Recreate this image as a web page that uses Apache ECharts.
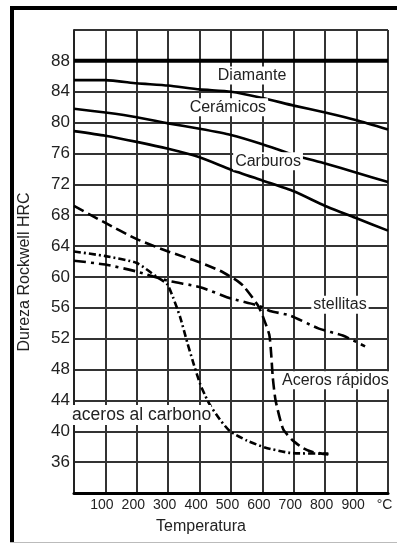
<!DOCTYPE html>
<html><head><meta charset="utf-8">
<script src="https://cdn.jsdelivr.net/npm/echarts@6/dist/echarts.min.js"></script>
<style>html,body{margin:0;padding:0;background:#fff}#c{width:397px;height:544px}</style>
</head><body><div id="c"></div>
<script>
// ---- tick labels ----
const xTickValues = [0, 100, 200, 300, 400, 500, 600, 700, 800, 900, 1000];
const xTickLabels = ['', '100', '200', '300', '400', '500', '600', '700', '800', '900', '°C'];
const yTickLabels = ['36', '40', '44', '48', '52', '56', '60', '64', '68', '72', '76', '80', '84', '88'];

// ---- series (temperature °C, Rockwell HRC) ----
const gridTemps = [0, 100, 200, 300, 400, 500, 600, 700, 800, 900, 1000];
const diamanteTemps = [0, 1000];
const diamanteHRC = [88, 88];
const ceramicosHRC = [85.5, 85.5, 85.1, 84.8, 84.3, 84.0, 83.2, 82.2, 81.3, 80.3, 79.1];
const carburosHRC = [81.8, 81.3, 80.7, 79.9, 79.2, 78.4, 77.2, 75.8, 74.7, 73.5, 72.3];
const carburos2HRC = [78.9, 78.3, 77.5, 76.6, 75.5, 73.9, 72.5, 71.1, 69.2, 67.6, 66.0];

const rapidosTemps = [0, 100, 200, 300, 400, 465, 520, 540, 586, 605, 622, 628, 633, 642, 666, 697, 730, 760, 810];
const rapidosHRC   = [69.2, 67.0, 64.9, 63.3, 61.9, 60.8, 59.5, 58.8, 56.3, 54.5, 52.5, 50.0, 47.0, 44.0, 40.3, 38.8, 37.8, 37.3, 37.0];

const carbonoTemps = [0, 100, 200, 264, 296, 315, 338, 360, 379, 401, 417, 433, 465, 497, 551, 608, 688, 810];
const carbonoHRC   = [63.3, 62.7, 61.8, 60.0, 59.1, 57.4, 54.8, 51.6, 49.0, 46.2, 44.7, 43.4, 41.5, 40.0, 38.8, 37.9, 37.2, 37.1];

const stellitasTemps = [0, 100, 200, 300, 400, 500, 586, 624, 688, 780, 856, 927];
const stellitasHRC   = [62.1, 61.6, 60.7, 59.5, 58.7, 57.2, 56.3, 55.6, 55.0, 53.3, 52.4, 51.0];

// ---- curve labels (text, anchor in data space) ----
const labelTexts = ['Diamante', 'Cerámicos', 'Carburos', 'stellitas', 'Aceros rápidos', 'aceros al carbono'];
const labelTemps = [567, 490, 618, 847, 656, -6];
const labelHRC   = [86.1, 82.0, 75.0, 56.4, 46.6, 42.1];
const labelAlign = ['center', 'center', 'center', 'center', 'left', 'left'];

const zip = (xs, ys) => xs.map((x, i) => [x, ys[i]]);
const FONT = 'Arial, "Liberation Sans", sans-serif';

const chart = echarts.init(document.getElementById('c'), null, {renderer: 'canvas'});

function lineSeries(name, data, width, dash) {
  return {
    name, type: 'line', data, showSymbol: false, symbol: 'none',
    smooth: 0.2, z: 3,
    lineStyle: {color: '#000', width: width, type: dash || 'solid'},
    emphasis: {disabled: true}, animation: false
  };
}

chart.setOption({
  animation: false,
  backgroundColor: '#fff',
  grid: {left: 74, right: 9, top: 30, bottom: 51},
  xAxis: {
    type: 'value', min: 0, max: 1000, interval: 100,
    axisLine: {show: true, lineStyle: {color: '#000', width: 3}},
    axisTick: {show: false},
    splitLine: {show: true, lineStyle: {color: '#333', width: 2}},
    axisLabel: {
      color: '#222', fontSize: 14, fontFamily: FONT, margin: 5, padding: [0, 7, 0, 0],
      formatter: v => { const i = xTickValues.indexOf(v); return i >= 0 ? xTickLabels[i] : ''; }
    }
  },
  yAxis: {
    type: 'value', min: 32, max: 92, interval: 4,
    axisLine: {show: true, lineStyle: {color: '#222', width: 2}},
    axisTick: {show: false},
    splitLine: {show: true, lineStyle: {color: '#333', width: 2}},
    axisLabel: {
      color: '#222', fontSize: 17, fontFamily: FONT, margin: 4,
      formatter: v => yTickLabels.indexOf(String(v)) >= 0 ? String(v) : ''
    }
  },
  series: [
    lineSeries('Diamante', zip(diamanteTemps, diamanteHRC), 4),
    lineSeries('Cerámicos', zip(gridTemps, ceramicosHRC), 2.6),
    lineSeries('Carburos', zip(gridTemps, carburosHRC), 2.6),
    lineSeries('Carburos 2', zip(gridTemps, carburos2HRC), 2.6),
    lineSeries('Aceros rápidos', zip(rapidosTemps, rapidosHRC), 2.6, [11, 5]),
    lineSeries('Aceros al carbono', zip(carbonoTemps, carbonoHRC), 2.6, [7, 3, 2, 3]),
    lineSeries('Stellitas', zip(stellitasTemps, stellitasHRC), 2.6, [12, 5, 3, 5])
  ]
});

const graphics = [
  // frame
  {type: 'rect', shape: {x: 10, y: 6, width: 4, height: 536}, style: {fill: '#000'}, z: 20},
  {type: 'rect', shape: {x: 10, y: 6, width: 387, height: 4}, style: {fill: '#000'}, z: 20},
  {type: 'rect', shape: {x: 10, y: 542, width: 387, height: 1}, style: {fill: '#bbb'}, z: 20},
  // axis titles
  {type: 'text', x: 201, y: 527, z: 20,
   style: {text: 'Temperatura', font: '16px ' + FONT, fill: '#222', align: 'center', verticalAlign: 'middle'}},
  {type: 'text', x: 25, y: 272, rotation: Math.PI / 2, z: 20,
   style: {text: 'Dureza Rockwell HRC', font: '16px ' + FONT, fill: '#222', align: 'center', verticalAlign: 'middle'}}
];
labelTexts.forEach((t, i) => {
  const p = chart.convertToPixel({gridIndex: 0}, [labelTemps[i], labelHRC[i]]);
  const big = t === 'aceros al carbono';
  graphics.push({
    type: 'text', x: p[0], y: p[1], z: 15,
    style: {
      text: t, font: (big ? '17.5px ' : '16px ') + FONT, fill: '#222',
      align: labelAlign[i], verticalAlign: 'middle',
      backgroundColor: '#fff', padding: big ? [1, 0, 1, 0] : [1, 2, 1, 2]
    }
  });
});
chart.setOption({graphic: graphics});
</script>
</body></html>
